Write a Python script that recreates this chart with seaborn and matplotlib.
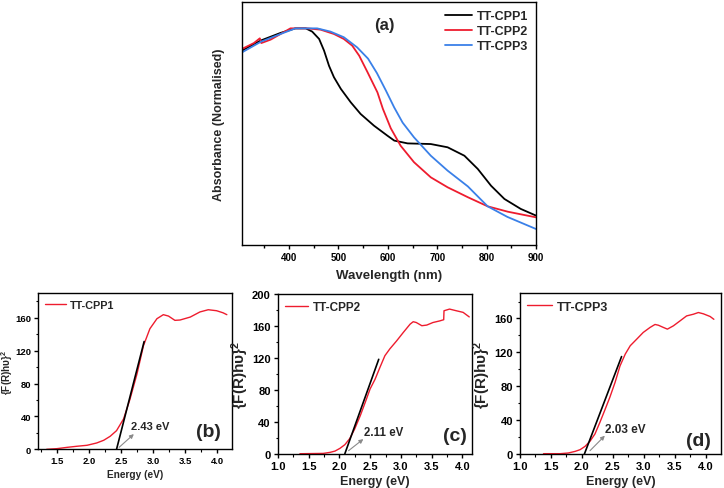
import numpy as np
import pandas as pd
import matplotlib
matplotlib.use("Agg")
import matplotlib.pyplot as plt
import seaborn as sns
from matplotlib.ticker import MultipleLocator, AutoMinorLocator

# ---------------- data: panel (a) ----------------
wl_cpp1 = [305, 342, 383, 413, 434, 447, 461, 471, 481, 491, 505, 525, 545, 572, 599, 613, 640, 687, 721, 755, 782, 809, 836, 869, 900]
abs_cpp1 = [0.899, 0.945, 0.981, 1.002, 1.002, 0.987, 0.953, 0.899, 0.829, 0.776, 0.722, 0.660, 0.606, 0.552, 0.506, 0.483, 0.470, 0.467, 0.452, 0.413, 0.352, 0.274, 0.213, 0.167, 0.136]

wl_cpp2 = [305, 329, 341, 344, 363, 383, 403, 437, 464, 491, 511, 528, 542, 559, 579, 590, 606, 626, 653, 687, 721, 762, 802, 843, 900]
abs_cpp2 = [0.907, 0.934, 0.956, 0.934, 0.950, 0.976, 1.002, 1.002, 0.996, 0.976, 0.953, 0.922, 0.876, 0.799, 0.706, 0.630, 0.540, 0.459, 0.383, 0.313, 0.267, 0.221, 0.179, 0.154, 0.128]

wl_cpp3 = [305, 343, 383, 413, 457, 484, 511, 538, 560, 578, 596, 613, 630, 653, 687, 721, 762, 802, 842, 900]
abs_cpp3 = [0.891, 0.940, 0.976, 1.002, 1.002, 0.987, 0.961, 0.914, 0.862, 0.795, 0.715, 0.636, 0.566, 0.498, 0.413, 0.344, 0.271, 0.179, 0.130, 0.074]

series_names = ["TT-CPP1", "TT-CPP2", "TT-CPP3"]

# ---------------- data: panels (b)-(d) ----------------
e_b = [1.34, 1.50, 1.66, 1.81, 1.97, 2.12, 2.23, 2.33, 2.43, 2.54, 2.64, 2.75, 2.85, 2.95, 3.06, 3.16, 3.24, 3.34, 3.42, 3.58, 3.73, 3.86, 3.99, 4.09, 4.15]
f_b = [0.0, 0.8, 2.4, 3.7, 4.9, 7.7, 11.0, 15.8, 22.7, 37.0, 61.0, 92.0, 126.0, 146.6, 158.8, 163.7, 162.0, 156.8, 157.2, 160.8, 167.0, 169.7, 168.5, 166.0, 163.7]
tan_b_e = [2.43, 2.86]
tan_b_f = [0.0, 131.0]

e_c = [1.36, 1.74, 1.85, 1.93, 2.01, 2.09, 2.17, 2.25, 2.34, 2.42, 2.50, 2.58, 2.66, 2.74, 2.82, 2.93, 3.04, 3.15, 3.20, 3.25, 3.34, 3.42, 3.52, 3.63, 3.695, 3.70, 3.79, 3.90, 4.01, 4.11]
f_c = [0.0, 0.4, 1.7, 3.3, 6.7, 11.3, 19.0, 31.0, 47.5, 64.0, 81.0, 93.0, 108.0, 122.5, 131.0, 141.0, 151.7, 162.0, 165.0, 164.0, 160.0, 160.8, 164.0, 166.0, 167.5, 178.7, 180.8, 178.7, 176.7, 171.0]
tan_c_e = [2.09, 2.64]
tan_c_f = [0.0, 118.0]

e_d = [1.38, 1.65, 1.78, 1.89, 1.97, 2.05, 2.13, 2.21, 2.29, 2.37, 2.45, 2.535, 2.615, 2.70, 2.78, 2.885, 2.99, 3.10, 3.18, 3.235, 3.315, 3.38, 3.477, 3.585, 3.69, 3.80, 3.88, 3.96, 4.07, 4.13]
f_d = [0.4, 0.4, 1.2, 3.1, 5.1, 9.0, 15.0, 23.6, 37.3, 51.9, 66.8, 84.5, 104.0, 118.0, 127.8, 135.6, 143.5, 149.4, 152.9, 152.0, 149.4, 147.4, 151.3, 157.2, 163.0, 165.0, 167.0, 165.5, 162.3, 159.0]
tan_d_e = [2.04, 2.64]
tan_d_f = [0.0, 115.0]

gap_labels = ["2.43 eV", "2.11 eV", "2.03 eV"]
panel_labels = ["(a)", "(b)", "(c)", "(d)"]

# ---------------- styling ----------------
sns.set_style("ticks")
plt.rcParams["font.family"] = ["Liberation Sans", "DejaVu Sans"]
plt.rcParams["font.weight"] = "bold"
plt.rcParams["axes.labelweight"] = "bold"
plt.rcParams["axes.linewidth"] = 1.0
plt.rcParams["axes.edgecolor"] = "black"
plt.rcParams["xtick.color"] = "black"
plt.rcParams["ytick.color"] = "black"
plt.rcParams["mathtext.default"] = "regular"

BLACK = "#000000"
RED = "#EE1C2E"
BLUE = "#3A80E8"

fig = plt.figure(figsize=(7.24, 4.89), dpi=100)

# ---------------- panel (a) ----------------
ax = fig.add_axes([0.3343, 0.4969, 0.4061, 0.4970])
dfa = pd.concat([
    pd.DataFrame({"wl": wl_cpp1, "A": abs_cpp1, "s": series_names[0]}),
    pd.DataFrame({"wl": wl_cpp2, "A": abs_cpp2, "s": series_names[1]}),
    pd.DataFrame({"wl": wl_cpp3, "A": abs_cpp3, "s": series_names[2]}),
])
sns.lineplot(data=dfa, x="wl", y="A", hue="s", palette=[BLACK, RED, BLUE],
             sort=False, estimator=None, lw=1.3, ax=ax)
ax.set_xlim(305, 900)
ax.set_ylim(0, 1.124)
ax.set_yticks([])
ax.xaxis.set_major_locator(MultipleLocator(100))
ax.xaxis.set_minor_locator(MultipleLocator(50))
ax.tick_params(axis="x", which="major", length=3, width=1, labelsize=7, pad=2)
ax.tick_params(axis="x", which="minor", length=2, width=1)
for t in ax.get_xticklabels():
    t.set_fontweight("bold")
ax.set_xlabel("Wavelength (nm)", fontsize=9.5, labelpad=5)
ax.set_ylabel("Absorbance (Normalised)", fontsize=9, labelpad=12)
leg = ax.legend(loc="upper right", frameon=False, fontsize=9, handlelength=2.2,
                handletextpad=0.35, labelspacing=0.25, borderaxespad=0.25)
for t in leg.get_texts():
    t.set_fontweight("bold")
ax.text(0.483, 0.909, panel_labels[0], transform=ax.transAxes, fontsize=12,
        fontweight="bold", ha="center", va="center")


def tauc_panel(rect, e, f, te, tf, name, xlim, ylim, yticks, gap, gap_xy, arrow_from,
               arrow_to, plabel, plabel_xy, tick_fs, xlab_fs, ylab_fs, leg_fs, gap_fs,
               ylab_pad):
    a = fig.add_axes(rect)
    df = pd.DataFrame({"E": e, "F": f, "s": name})
    sns.lineplot(data=df, x="E", y="F", hue="s", palette=[RED], sort=False,
                 estimator=None, lw=1.0, ax=a)
    a.plot(te, tf, color=BLACK, lw=1.2)
    a.set_xlim(*xlim)
    a.set_ylim(*ylim)
    a.set_yticks(yticks)
    a.xaxis.set_major_locator(MultipleLocator(0.5))
    a.xaxis.set_minor_locator(AutoMinorLocator(2))
    a.yaxis.set_minor_locator(AutoMinorLocator(2))
    a.tick_params(which="major", length=3, width=1, labelsize=tick_fs, pad=2)
    a.tick_params(which="minor", length=1.8, width=0.8)
    for t in a.get_xticklabels() + a.get_yticklabels():
        t.set_fontweight("bold")
    a.set_xlabel("Energy (eV)", fontsize=xlab_fs, labelpad=3)
    a.set_ylabel("{F(R)hυ}$^{2}$", fontsize=ylab_fs, labelpad=ylab_pad)
    lg = a.legend(loc="upper left", frameon=False, fontsize=leg_fs, handlelength=2.0,
                  handletextpad=0.35, borderaxespad=0.2)
    for t in lg.get_texts():
        t.set_fontweight("bold")
    a.annotate("", xy=arrow_to, xytext=arrow_from,
               arrowprops=dict(arrowstyle="-|>", color="#8A8A8A", lw=0.8,
                               mutation_scale=6, shrinkA=0, shrinkB=0))
    a.text(gap_xy[0], gap_xy[1], gap, fontsize=gap_fs, fontweight="bold",
           ha="left", va="center")
    a.text(plabel_xy[0], plabel_xy[1], plabel, fontsize=14, fontweight="bold",
           ha="center", va="center")
    return a


tauc_panel([0.0529, 0.0791, 0.2675, 0.3196], e_b, f_b, tan_b_e, tan_b_f, series_names[0],
           (1.21, 4.23), (0, 190), [0, 40, 80, 120, 160], gap_labels[0], (2.66, 28),
           (2.47, 2.4), (2.70, 18.5), panel_labels[1], (3.87, 22), 6.8, 7.3, 7.2, 7.8, 8, 0)
tauc_panel([0.3836, 0.0701, 0.2688, 0.3272], e_c, f_c, tan_c_e, tan_c_f, series_names[1],
           (1.0, 4.16), (0, 200), [0, 40, 80, 120, 160, 200], gap_labels[1], (2.40, 27),
           (2.15, 3.8), (2.39, 18.3), panel_labels[2], (3.88, 23), 8, 9, 11, 8.5, 8.3, 1)
tauc_panel([0.7182, 0.0695, 0.2772, 0.3292], e_d, f_d, tan_d_e, tan_d_f, series_names[2],
           (1.0, 4.24), (0, 190), [0, 40, 80, 120, 160], gap_labels[2], (2.37, 29),
           (2.13, 3.9), (2.37, 21.6), panel_labels[3], (3.88, 16), 8, 9, 11, 9, 8.5, 1)

fig.savefig("out.png", dpi=100)
